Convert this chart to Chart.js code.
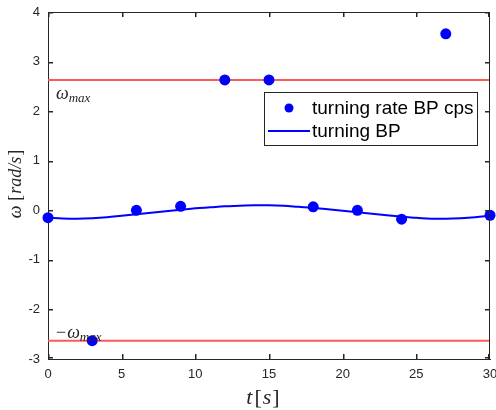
<!DOCTYPE html>
<html>
<head>
<meta charset="utf-8">
<script src="https://cdn.jsdelivr.net/npm/chart.js@4.4.1/dist/chart.umd.min.js"></script>
<style>
  html, body { margin: 0; padding: 0; background: #fff; }
  #wrap { width: 496px; height: 410px; }
</style>
</head>
<body>
<div id="wrap"><canvas id="c" width="496" height="410"></canvas></div>
<script>
// Sampled turning rate (control points), every 3 s
const sampleTimes = [0, 3, 6, 9, 12, 15, 18, 21, 24, 27, 30];
const turningRateCps = [-0.15, -2.63, 0.00, 0.08, 2.63, 2.63, 0.07, 0.00, -0.18, 3.56, -0.10];

// Smooth turning-rate profile, every 1 s
const curveTimes = [0, 1, 2, 3, 4, 5, 6, 7, 8, 9, 10, 11, 12, 13, 14, 15,
                    16, 17, 18, 19, 20, 21, 22, 23, 24, 25, 26, 27, 28, 29, 30];
const turningBP = [-0.15, -0.165, -0.17, -0.16, -0.14, -0.11, -0.08, -0.05, -0.02, 0.01, 0.04,
                   0.06, 0.08, 0.09, 0.10, 0.10, 0.09, 0.07, 0.05, 0.02, -0.01, -0.04,
                   -0.07, -0.10, -0.13, -0.15, -0.17, -0.17, -0.16, -0.14, -0.11];

// Turning-rate limit
const omegaMax = 2.63;
const limitTimes = [0, 30];

// Axis ticks
const xTicks = [0, 5, 10, 15, 20, 25, 30];
const yTicks = [-3, -2, -1, 0, 1, 2, 3, 4];

// Legend entries
const legendLabels = ['turning rate BP cps', 'turning BP'];

const AXIS = '#262626';
const AXIS_SOFT = 'rgba(38,38,38,0.5)';
const BLUE = '#0000ff';
const RED = '#ff5a5a';
const SANS = '"Liberation Sans", Arial, Helvetica, sans-serif';
const SERIF = '"Liberation Serif", "Times New Roman", serif';

const toXY = (xs, ys) => xs.map((x, i) => ({ x, y: ys[i] }));

// Draws a run of text pieces, each with its own font and vertical offset
function mathLabel(ctx, x, y, parts) {
  let cx = x;
  for (const p of parts) {
    ctx.font = p.font;
    ctx.fillText(p.text, cx, y + (p.dy || 0));
    cx += ctx.measureText(p.text).width + (p.gap || 0);
  }
}
function partsWidth(ctx, parts) {
  let w = 0;
  for (const p of parts) { ctx.font = p.font; w += ctx.measureText(p.text).width + (p.gap || 0); }
  return w;
}

const decorations = {
  id: 'decorations',
  afterDraw(chart) {
    const { ctx, chartArea: a, scales: { x, y } } = chart;
    const L = Math.round(a.left), R = Math.round(a.right);
    const T = Math.round(a.top), B = Math.round(a.bottom);
    ctx.save();
    ctx.fillStyle = AXIS;
    // Box around the axes (top and right edges)
    ctx.fillRect(L, T, R - L, 1);
    ctx.fillRect(R - 1, T, 1, B - T);
    // Inward tick marks on all four sides (1px core with a soft edge)
    const tl = 5;
    const vTick = (px, py) => {
      ctx.fillStyle = AXIS; ctx.fillRect(px, py, 1, tl);
      ctx.fillStyle = AXIS_SOFT; ctx.fillRect(px + 1, py, 1, tl);
    };
    const hTick = (px, py) => {
      ctx.fillStyle = AXIS; ctx.fillRect(px, py, tl, 1);
      ctx.fillStyle = AXIS_SOFT; ctx.fillRect(px, py + 1, tl, 1);
    };
    for (const v of xTicks) {
      const px = Math.min(Math.round(x.getPixelForValue(v)), R - 2);
      vTick(px, B - tl);
      vTick(px, T);
    }
    for (const v of yTicks) {
      const py = Math.min(Math.round(y.getPixelForValue(v)), B - 2);
      hTick(L, py);
      hTick(R - tl, py);
    }

    // Limit annotations
    ctx.fillStyle = AXIS;
    ctx.textBaseline = 'alphabetic';
    ctx.textAlign = 'left';
    const yTop = y.getPixelForValue(omegaMax);
    mathLabel(ctx, L + 8, yTop + 19, [
      { text: 'ω', font: `italic 18px ${SERIF}`, gap: 0 },
      { text: 'max', font: `italic 13px ${SERIF}`, dy: 3 }
    ]);
    const yBot = y.getPixelForValue(-omegaMax);
    mathLabel(ctx, L + 8, yBot - 3, [
      { text: '−', font: `18px ${SERIF}`, gap: 1 },
      { text: 'ω', font: `italic 18px ${SERIF}`, gap: 0 },
      { text: 'max', font: `italic 13px ${SERIF}`, dy: 3 }
    ]);

    // Axis titles
    const xParts = [
      { text: 't', font: `italic 22px ${SERIF}`, gap: 2 },
      { text: '[', font: `22px ${SERIF}`, gap: 1 },
      { text: 's', font: `italic 22px ${SERIF}`, gap: 1 },
      { text: ']', font: `22px ${SERIF}` }
    ];
    mathLabel(ctx, 263 - partsWidth(ctx, xParts) / 2, 404, xParts);

    const yParts = [
      { text: 'ω', font: `italic 18px ${SERIF}`, gap: 5 },
      { text: '[', font: `18px ${SERIF}`, gap: 1 },
      { text: 'rad/s', font: `italic 18px ${SERIF}`, gap: 1 },
      { text: ']', font: `18px ${SERIF}` }
    ];
    ctx.save();
    ctx.translate(21, 184);
    ctx.rotate(-Math.PI / 2);
    mathLabel(ctx, -partsWidth(ctx, yParts) / 2, 0, yParts);
    ctx.restore();

    // Legend
    const lx = 264.5, ly = 92.5, lw = 213, lh = 53;
    ctx.fillStyle = '#fff';
    ctx.fillRect(lx, ly, lw, lh);
    ctx.strokeStyle = AXIS;
    ctx.lineWidth = 1;
    ctx.strokeRect(lx, ly, lw, lh);
    ctx.fillStyle = BLUE;
    ctx.beginPath();
    ctx.arc(289, 108, 4.5, 0, Math.PI * 2);
    ctx.fill();
    ctx.strokeStyle = BLUE;
    ctx.lineWidth = 2;
    ctx.beginPath();
    ctx.moveTo(268, 131);
    ctx.lineTo(310, 131);
    ctx.stroke();
    ctx.fillStyle = '#000';
    ctx.font = `19px ${SANS}`;
    ctx.textBaseline = 'middle';
    ctx.fillText(legendLabels[0], 312, 109);
    ctx.fillText(legendLabels[1], 312, 132);
    ctx.restore();
  }
};

new Chart(document.getElementById('c'), {
  type: 'scatter',
  data: {
    datasets: [
      {
        label: legendLabels[0],
        data: toXY(sampleTimes, turningRateCps),
        showLine: false,
        pointRadius: 5.5,
        pointBackgroundColor: BLUE,
        pointBorderWidth: 0,
        clip: 8,
        order: 0
      },
      {
        label: legendLabels[1],
        data: toXY(curveTimes, turningBP),
        showLine: true,
        borderColor: BLUE,
        borderWidth: 2,
        tension: 0.4,
        pointRadius: 0,
        order: 1
      },
      {
        label: 'omega max',
        data: toXY(limitTimes, [omegaMax, omegaMax]),
        showLine: true,
        borderColor: RED,
        borderWidth: 2,
        pointRadius: 0,
        order: 2
      },
      {
        label: '-omega max',
        data: toXY(limitTimes, [-omegaMax, -omegaMax]),
        showLine: true,
        borderColor: RED,
        borderWidth: 2,
        pointRadius: 0,
        order: 2
      }
    ]
  },
  options: {
    responsive: false,
    devicePixelRatio: 1,
    animation: false,
    layout: { padding: { top: 12, right: 6, left: 0, bottom: 0 } },
    plugins: { legend: { display: false }, tooltip: { enabled: false } },
    scales: {
      x: {
        type: 'linear',
        min: 0, max: 30,
        afterBuildTicks: s => { s.ticks = xTicks.map(v => ({ value: v })); },
        afterFit: s => { s.height = 51; s.paddingLeft = 0; s.paddingRight = 0; },
        grid: { drawOnChartArea: false, drawTicks: false },
        border: { display: true, color: AXIS, width: 1 },
        ticks: { color: AXIS, padding: 8, font: { family: SANS, size: 13 }, maxRotation: 0 }
      },
      y: {
        type: 'linear',
        min: -3, max: 4,
        afterBuildTicks: s => { s.ticks = yTicks.map(v => ({ value: v })); },
        afterFit: s => { s.width = 48; s.paddingTop = 0; s.paddingBottom = 0; },
        grid: { drawOnChartArea: false, drawTicks: false },
        border: { display: true, color: AXIS, width: 1 },
        ticks: { color: AXIS, padding: 8, font: { family: SANS, size: 13 } }
      }
    }
  },
  plugins: [decorations]
});
</script>
</body>
</html>
